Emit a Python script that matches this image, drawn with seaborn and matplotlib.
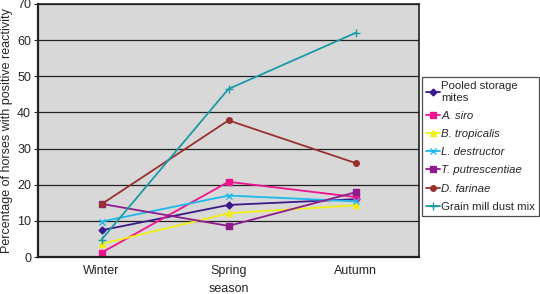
import matplotlib
matplotlib.use("Agg")
import matplotlib.pyplot as plt
import seaborn as sns
import pandas as pd

seasons = ["Winter", "Spring", "Autumn"]
series_names = ["Pooled storage\nmites", "A. siro", "B. tropicalis", "L. destructor",
                "T. putrescentiae", "D. farinae", "Grain mill dust mix"]
pooled = [7.4, 14.4, 16.0]
a_siro = [1.2, 20.8, 16.6]
b_trop = [3.6, 12.1, 14.3]
l_dest = [9.8, 17.0, 15.4]
t_putr = [14.7, 8.6, 17.9]
d_far = [14.6, 37.8, 26.0]
grain = [4.8, 46.5, 62.0]
values = [pooled, a_siro, b_trop, l_dest, t_putr, d_far, grain]

colors = ["#3A1A8A", "#EE1490", "#F2EE10", "#1CB8EE", "#8E1C8E", "#993030", "#1A9AA8"]
markers = ["D", "s", "^", "x", "s", "o", "+"]
msizes = [3.5, 4, 4, 5, 4, 4, 6]
italic = [False, True, True, True, True, True, False]

sns.set_style("white")
plt.rcParams['font.family'] = ['Liberation Sans', 'DejaVu Sans']
FS = 9.0
LFS = 8.2

fig = plt.figure(figsize=(5.4, 2.94), dpi=100)
ax = fig.add_axes([38/540, 37/294, 381/540, 253/294])
ax.set_facecolor("#D8D8D8")

for name, vals, c, m, ms in zip(series_names, values, colors, markers, msizes):
    df = pd.DataFrame({"season": seasons, "value": vals})
    sns.lineplot(data=df, x="season", y="value", ax=ax, color=c, marker=m,
                 markersize=ms, linewidth=1.3, label=name,
                 markeredgecolor=c, markeredgewidth=1.0, sort=False)

ax.set_xlim(-0.5, 2.5)
ax.set_ylim(0, 70)
ax.set_yticks(range(0, 71, 10))
ax.yaxis.grid(True, color="#222222", linewidth=0.9)
ax.set_axisbelow(True)
ax.set_xticks([0, 1, 2])
ax.set_xticklabels(seasons, fontsize=FS)
ax.tick_params(axis='x', length=0, pad=6)
ax.set_xticks([0.5, 1.5], minor=True)
ax.tick_params(axis='x', which='minor', length=3, width=0.8, color='#555555', direction='out')
ax.tick_params(axis='y', labelsize=FS, length=3, width=0.8, direction='out', left=True, pad=2)
for s in ["left", "bottom"]:
    ax.spines[s].set_linewidth(1.6)
    ax.spines[s].set_color("#222222")
for s in ["top", "right"]:
    ax.spines[s].set_linewidth(1.2)
    ax.spines[s].set_color("#222222")
ax.set_xlabel("season", fontsize=FS, labelpad=4)
ax.set_ylabel("Percentage of horses with positive reactivity", fontsize=FS, labelpad=3)

leg = ax.legend(loc="upper left", bbox_to_anchor=(422/540, 217/294), bbox_transform=fig.transFigure,
                fontsize=LFS, frameon=True, fancybox=False, edgecolor="#222222",
                handlelength=1.2, handletextpad=0.15, borderpad=0.35, labelspacing=0.72,
                borderaxespad=0)
leg.get_frame().set_linewidth(0.9)
for t, it in zip(leg.get_texts(), italic):
    if it:
        t.set_fontstyle("italic")

fig.savefig("out.png", dpi=100)
